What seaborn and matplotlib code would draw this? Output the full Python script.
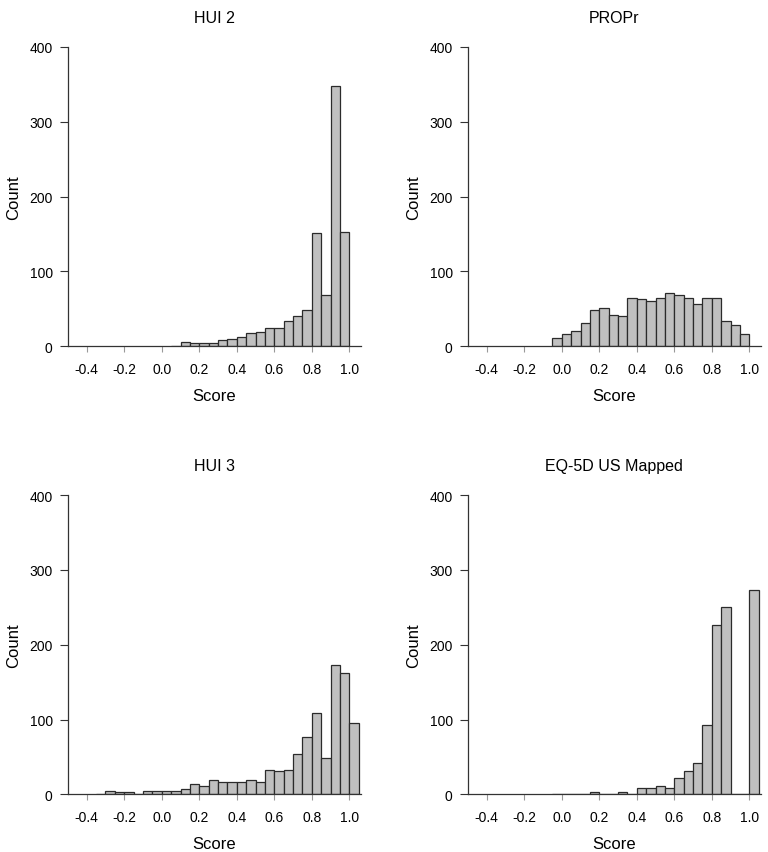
import numpy as np
import pandas as pd
import matplotlib
matplotlib.use("Agg")
import matplotlib.pyplot as plt
import seaborn as sns

# Histogram counts, bin width 0.05
# each list starts at the given left bin edge
bin_width = 0.05

hui2_start = 0.05
hui2_counts = [1, 6, 4, 5, 4, 9, 10, 12, 18, 19, 25, 24, 34, 41, 48, 152, 68, 348, 153]

propr_start = -0.05
propr_counts = [11, 16, 20, 31, 48, 51, 42, 40, 65, 63, 60, 65, 71, 68, 65, 56, 65, 65, 34, 28, 16]

hui3_start = -0.35
hui3_counts = [1, 4, 3, 3, 1, 4, 4, 5, 5, 7, 14, 11, 19, 17, 17, 17, 19, 16,
               32, 31, 32, 54, 76, 109, 48, 173, 162, 95]

eq5d_start = -0.05
eq5d_counts = [1, 0, 0, 1, 3, 0, 1, 3, 1, 9, 9, 11, 9, 22, 31, 42, 92, 226, 250,
               0, 0, 273]

titles = ["HUI 2", "PROPr", "HUI 3", "EQ-5D US Mapped"]
x_ticks = [-0.4, -0.2, 0.0, 0.2, 0.4, 0.6, 0.8, 1.0]
x_tick_labels = ["-0.4", "-0.2", "0.0", "0.2", "0.4", "0.6", "0.8", "1.0"]
y_ticks = [0, 100, 200, 300, 400]

sns.set_style("ticks")
plt.rcParams['font.family'] = ['Liberation Sans', 'DejaVu Sans']
plt.rcParams['axes.unicode_minus'] = False
plt.rcParams['text.color'] = 'black'
plt.rcParams['axes.labelcolor'] = 'black'

fig = plt.figure(figsize=(7.68, 8.53), dpi=100)

# axes boxes in figure fractions (left, bottom, width, height)
boxes = [
    (0.0885, 0.5929, 0.381, 0.3509),
    (0.6094, 0.5929, 0.381, 0.3509),
    (0.0885, 0.0676, 0.381, 0.3509),
    (0.6094, 0.0676, 0.381, 0.3509),
]

panels = [
    (hui2_start, hui2_counts),
    (propr_start, propr_counts),
    (hui3_start, hui3_counts),
    (eq5d_start, eq5d_counts),
]

for box, (start, counts), title in zip(boxes, panels, titles):
    ax = fig.add_axes(box)
    n = len(counts)
    edges = start + bin_width * np.arange(n + 1)
    df = pd.DataFrame({"score": (edges[:-1] + edges[1:]) / 2, "count": counts})
    sns.histplot(data=df, x="score", weights="count", bins=edges.tolist(), ax=ax,
                 color="#c0c0c0", alpha=1, edgecolor="#2b2b2b", linewidth=0.9)
    ax.set_xlim(-0.5, 1.06)
    ax.set_ylim(0, 400)
    ax.set_xticks(x_ticks)
    ax.set_xticklabels(x_tick_labels)
    ax.set_yticks(y_ticks)
    ax.tick_params(axis='y', length=6, width=0.8, pad=5, labelsize=10,
                   color="#333333", labelcolor="black")
    ax.tick_params(axis='x', length=4, width=0.8, pad=7, labelsize=10,
                   color="#999999", labelcolor="black")
    for side in ['top', 'right']:
        ax.spines[side].set_visible(False)
    for side in ['left', 'bottom']:
        ax.spines[side].set_linewidth(0.9)
        ax.spines[side].set_color("#333333")
    ax.set_xlabel("Score", fontsize=12, labelpad=9)
    ax.set_ylabel("Count", fontsize=12, labelpad=6)
    ax.set_title(title, fontsize=11.5, pad=18)

plt.savefig("out.png", dpi=100)
